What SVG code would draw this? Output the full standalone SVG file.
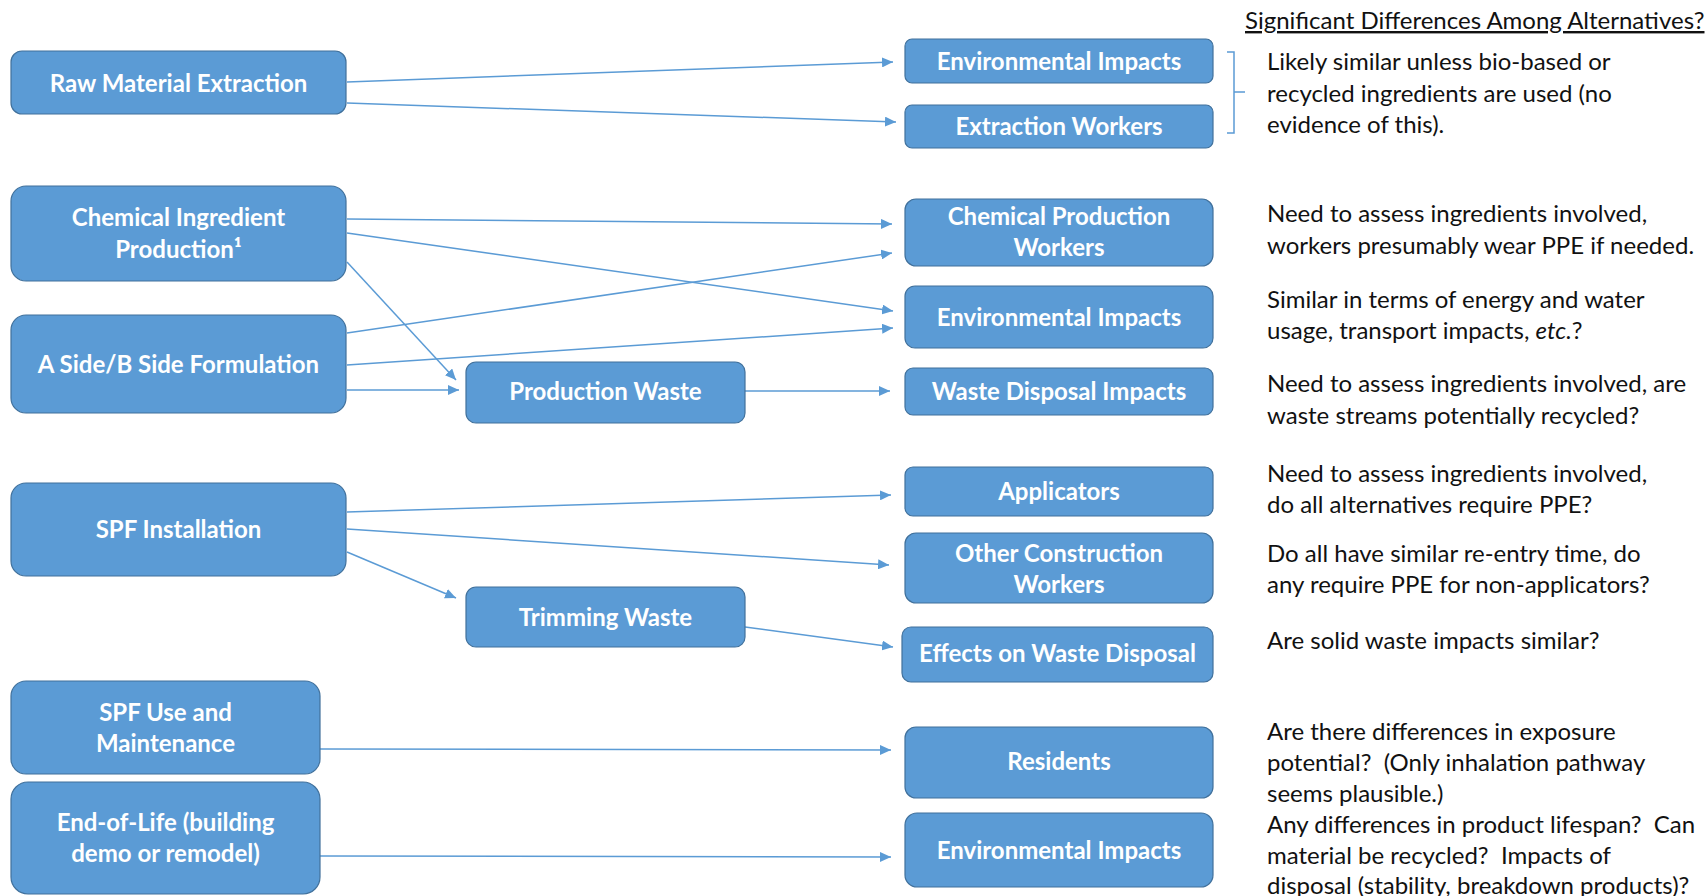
<svg xmlns="http://www.w3.org/2000/svg" width="1707" height="896" viewBox="0 0 1707 896">
<style>
.box{fill:#5B9BD5;stroke:#41719C;stroke-width:1.2}
.bt{font-family:Lato,"Liberation Sans",sans-serif;font-weight:bold;font-size:24px;fill:#FFFFFF;text-anchor:middle}
.dt{font-family:Lato,"Liberation Sans",sans-serif;font-size:24px;fill:#111111;white-space:pre}
.cn{stroke:#5B9BD5;stroke-width:1.5;fill:none;marker-end:url(#ah)}
.br{stroke:#5B9BD5;stroke-width:1.5;fill:none}
</style>
<defs>
<marker id="ah" markerUnits="userSpaceOnUse" markerWidth="12" markerHeight="10" refX="11" refY="5" orient="auto">
<path d="M0,0 L11,5 L0,10 Z" fill="#5B9BD5"/>
</marker>
</defs>
<rect width="1707" height="896" fill="#FFFFFF"/>

<g id="connectors">
<line class="cn" x1="347" y1="82" x2="893" y2="62"/>
<line class="cn" x1="347" y1="103" x2="896" y2="122"/>
<line class="cn" x1="347" y1="219" x2="892" y2="224"/>
<line class="cn" x1="347" y1="233" x2="893" y2="311"/>
<line class="cn" x1="347" y1="262" x2="456" y2="380"/>
<line class="cn" x1="347" y1="333" x2="892" y2="253"/>
<line class="cn" x1="347" y1="365" x2="893" y2="328"/>
<line class="cn" x1="347" y1="390" x2="459" y2="390"/>
<line class="cn" x1="745" y1="391" x2="890" y2="391"/>
<line class="cn" x1="347" y1="512" x2="891" y2="495"/>
<line class="cn" x1="347" y1="529" x2="889" y2="565"/>
<line class="cn" x1="347" y1="552" x2="456" y2="598"/>
<line class="cn" x1="745" y1="627" x2="893" y2="647"/>
<line class="cn" x1="320" y1="749" x2="891" y2="750"/>
<line class="cn" x1="320" y1="856" x2="891" y2="857"/>
</g>

<g id="raw-material-extraction">
<rect class="box" x="11" y="51" width="335" height="63" rx="11"/>
<text class="bt" x="178.5" y="91.5">Raw Material Extraction</text>
</g>
<g id="chemical-ingredient-production">
<rect class="box" x="11" y="186" width="335" height="95" rx="15"/>
<text class="bt" x="178.5" y="226">Chemical Ingredient</text>
<text class="bt" x="178.5" y="258">Production¹</text>
</g>
<g id="aside-bside-formulation">
<rect class="box" x="11" y="315" width="335" height="98" rx="15"/>
<text class="bt" x="178.5" y="373">A Side/B Side Formulation</text>
</g>
<g id="spf-installation">
<rect class="box" x="11" y="483" width="335" height="93" rx="15"/>
<text class="bt" x="178.5" y="538">SPF Installation</text>
</g>
<g id="spf-use">
<rect class="box" x="11" y="681" width="309" height="93" rx="15"/>
<text class="bt" x="165.5" y="721">SPF Use and</text>
<text class="bt" x="165.5" y="752">Maintenance</text>
</g>
<g id="end-of-life">
<rect class="box" x="11" y="782" width="309" height="112" rx="17"/>
<text class="bt" x="165.5" y="831">End-of-Life (building</text>
<text class="bt" x="165.5" y="862">demo or remodel)</text>
</g>
<g id="production-waste">
<rect class="box" x="466" y="362" width="279" height="61" rx="10"/>
<text class="bt" x="605.5" y="400">Production Waste</text>
</g>
<g id="trimming-waste">
<rect class="box" x="466" y="587" width="279" height="60" rx="10"/>
<text class="bt" x="605.5" y="625.5">Trimming Waste</text>
</g>
<g id="env-impacts-1">
<rect class="box" x="905" y="39" width="308" height="44" rx="7"/>
<text class="bt" x="1059" y="70">Environmental Impacts</text>
</g>
<g id="extraction-workers">
<rect class="box" x="905" y="105" width="308" height="43" rx="7"/>
<text class="bt" x="1059" y="135">Extraction Workers</text>
</g>
<g id="chemical-production-workers">
<rect class="box" x="905" y="199" width="308" height="67" rx="11"/>
<text class="bt" x="1059" y="225">Chemical Production</text>
<text class="bt" x="1059" y="256">Workers</text>
</g>
<g id="env-impacts-2">
<rect class="box" x="905" y="286" width="308" height="62" rx="10"/>
<text class="bt" x="1059" y="326">Environmental Impacts</text>
</g>
<g id="waste-disposal-impacts">
<rect class="box" x="905" y="368" width="308" height="47" rx="8"/>
<text class="bt" x="1059" y="400">Waste Disposal Impacts</text>
</g>
<g id="applicators">
<rect class="box" x="905" y="467" width="308" height="49" rx="8"/>
<text class="bt" x="1059" y="500">Applicators</text>
</g>
<g id="other-construction-workers">
<rect class="box" x="905" y="533" width="308" height="70" rx="11"/>
<text class="bt" x="1059" y="562">Other Construction</text>
<text class="bt" x="1059" y="593">Workers</text>
</g>
<g id="effects-waste-disposal">
<rect class="box" x="902" y="627" width="311" height="55" rx="9"/>
<text class="bt" x="1057.5" y="662">Effects on Waste Disposal</text>
</g>
<g id="residents">
<rect class="box" x="905" y="727" width="308" height="71" rx="11"/>
<text class="bt" x="1059" y="770">Residents</text>
</g>
<g id="env-impacts-3">
<rect class="box" x="905" y="813" width="308" height="74" rx="12"/>
<text class="bt" x="1059" y="859">Environmental Impacts</text>
</g>

<g id="bracket">
<path class="br" d="M1227,52 L1234,52 L1234,133 L1227,133 M1234,92 L1245,92"/>
</g>

<g id="notes">
<text class="dt" x="1245" y="29" text-decoration="underline">Significant Differences Among Alternatives?</text>
<text class="dt" x="1267" y="70">Likely similar unless bio-based or</text>
<text class="dt" x="1267" y="102">recycled ingredients are used (no</text>
<text class="dt" x="1267" y="133">evidence of this).</text>
<text class="dt" x="1267" y="222">Need to assess ingredients involved,</text>
<text class="dt" x="1267" y="254">workers presumably wear PPE if needed.</text>
<text class="dt" x="1267" y="308">Similar in terms of energy and water</text>
<text class="dt" x="1267" y="339">usage, transport impacts, <tspan font-style="italic">etc.</tspan>?</text>
<text class="dt" x="1267" y="392">Need to assess ingredients involved, are</text>
<text class="dt" x="1267" y="424">waste streams potentially recycled?</text>
<text class="dt" x="1267" y="482">Need to assess ingredients involved,</text>
<text class="dt" x="1267" y="513">do all alternatives require PPE?</text>
<text class="dt" x="1267" y="562">Do all have similar re-entry time, do</text>
<text class="dt" x="1267" y="593">any require PPE for non-applicators?</text>
<text class="dt" x="1267" y="649">Are solid waste impacts similar?</text>
<text class="dt" x="1267" y="740">Are there differences in exposure</text>
<text class="dt" x="1267" y="771">potential?  (Only inhalation pathway</text>
<text class="dt" x="1267" y="802">seems plausible.)</text>
<text class="dt" x="1267" y="833">Any differences in product lifespan?  Can</text>
<text class="dt" x="1267" y="864">material be recycled?  Impacts of</text>
<text class="dt" x="1267" y="894">disposal (stability, breakdown products)?</text>
</g>
</svg>
